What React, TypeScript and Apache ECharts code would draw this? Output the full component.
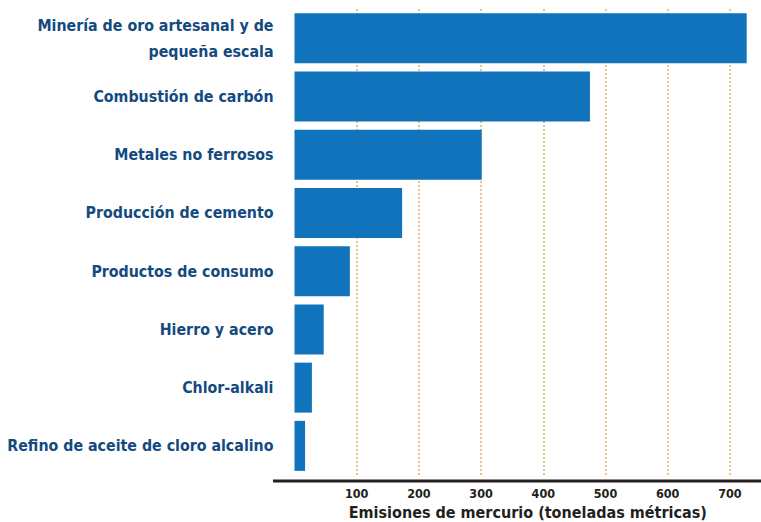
import React, { useEffect, useRef } from "react";
import * as echarts from "echarts";

const categories = [
  "Minería de oro artesanal y de\npequeña escala",
  "Combustión de carbón",
  "Metales no ferrosos",
  "Producción de cemento",
  "Productos de consumo",
  "Hierro y acero",
  "Chlor-alkali",
  "Refino de aceite de cloro alcalino",
];
const values = [727, 475, 301, 173, 89, 47, 28, 17];
const axisTitle = "Emisiones de mercurio (toneladas métricas)";

const FONT = '"DejaVu Sans Condensed", "Liberation Sans Narrow", sans-serif';

export default function App() {
  const ref = useRef<HTMLDivElement>(null);
  useEffect(() => {
    if (!ref.current) return;
    const chart = echarts.init(ref.current, null, { renderer: "svg" });
    chart.setOption({
      animation: false,
      grid: {
        left: 294.5,
        right: 0,
        top: 9,
        height: 466,
        containLabel: false,
        outerBoundsMode: "none",
      },
      xAxis: {
        type: "value",
        min: 0,
        max: 750,
        interval: 100,
        offset: 6,
        axisLine: { show: false },
        axisTick: { show: false },
        axisLabel: {
          showMinLabel: false,
          showMaxLabel: false,
          margin: 6,
          color: "#231f20",
          fontFamily: FONT,
          fontWeight: "bold",
          fontSize: 12.5,
        },
        splitLine: {
          show: true,
          showMinLine: false,
          showMaxLine: false,
          lineStyle: { color: "#e3c48a", width: 2, type: [2, 2] },
        },
        name: axisTitle,
        nameLocation: "middle",
        nameGap: 23,
        nameTextStyle: {
          color: "#231f20",
          fontFamily: FONT,
          fontWeight: "bold",
          fontSize: 16,
        },
      },
      yAxis: {
        type: "category",
        inverse: true,
        data: categories,
        axisLine: { show: false },
        axisTick: { show: false },
        axisLabel: {
          margin: 21,
          color: "#134a80",
          fontFamily: FONT,
          fontWeight: "bold",
          fontSize: 15.8,
          lineHeight: 26,
          align: "right",
        },
      },
      series: [
        {
          type: "bar",
          data: values,
          barWidth: 50,
          itemStyle: { color: "#1073bb" },
        },
      ],
      graphic: [
        {
          type: "line",
          shape: { x1: 273, y1: 481, x2: 761, y2: 481 },
          style: { stroke: "#231f20", lineWidth: 3 },
          z: 10,
        },
      ],
    });
    return () => chart.dispose();
  }, []);
  return (
    <div
      ref={ref}
      style={{ position: "absolute", left: 0, top: 0, width: 761, height: 522 }}
    />
  );
}
